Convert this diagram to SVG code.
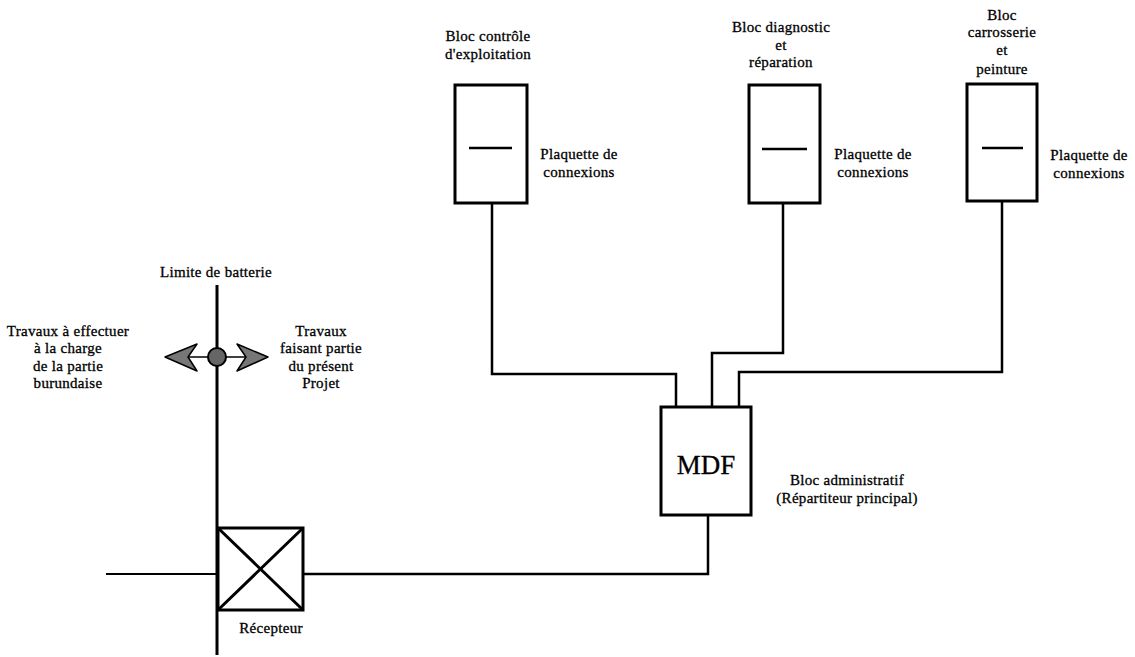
<svg xmlns="http://www.w3.org/2000/svg" width="1135" height="657" viewBox="0 0 1135 657">
<style>
text{font-family:"Liberation Serif","Times New Roman",serif;font-size:15px;fill:#000;stroke:#000;stroke-width:0.3;letter-spacing:0.3px}
.c{text-anchor:middle}
.box{fill:#fff;stroke:#000;stroke-width:3}
.ln{fill:none;stroke:#000;stroke-width:2.5;stroke-linejoin:miter;stroke-linecap:square}
.pl{stroke:#000;stroke-width:2.5}
.arr{fill:#777;stroke:#000;stroke-width:1.5;stroke-linejoin:round}
</style>
<rect width="1135" height="657" fill="#fff"/>
<g id="connectors">
<polyline class="ln" points="492,203 492,374 676,374 676,407"/>
<polyline class="ln" points="783,203 783,353 712,353 712,407"/>
<polyline class="ln" points="1002,201 1002,372 739,372 739,407"/>
<polyline class="ln" points="708,515 708,574 303,574"/>
<line class="ln" x1="107" y1="574" x2="218" y2="574" style="stroke-width:2"/>
</g>
<g id="bloc-controle">
<rect class="box" x="455" y="85" width="72" height="118"/>
<line class="pl" x1="469" y1="148" x2="512" y2="148"/>
<text class="c" x="488" y="41">Bloc contrôle</text>
<text class="c" x="488" y="59">d'exploitation</text>
<text class="c" x="579" y="159">Plaquette de</text>
<text class="c" x="579" y="177">connexions</text>
</g>
<g id="bloc-diagnostic">
<rect class="box" x="749" y="85" width="71" height="118"/>
<line class="pl" x1="762" y1="149" x2="807" y2="149"/>
<text class="c" x="781" y="32">Bloc diagnostic</text>
<text class="c" x="781" y="50">et</text>
<text class="c" x="781" y="67">réparation</text>
<text class="c" x="873" y="159">Plaquette de</text>
<text class="c" x="873" y="177">connexions</text>
</g>
<g id="bloc-carrosserie">
<rect class="box" x="967" y="84" width="70" height="117"/>
<line class="pl" x1="982" y1="148" x2="1023" y2="148"/>
<text class="c" x="1002" y="20">Bloc</text>
<text class="c" x="1002" y="37">carrosserie</text>
<text class="c" x="1002" y="55">et</text>
<text class="c" x="1002" y="74">peinture</text>
<text class="c" x="1089" y="160">Plaquette de</text>
<text class="c" x="1089" y="178">connexions</text>
</g>
<g id="mdf">
<rect class="box" x="661" y="407" width="90" height="108"/>
<text class="c" x="706" y="474" style="font-size:27px;letter-spacing:0">MDF</text>
<text class="c" x="847" y="485">Bloc administratif</text>
<text class="c" x="847" y="503">(Répartiteur principal)</text>
</g>
<g id="limite">
<line class="pl" x1="217" y1="285" x2="217" y2="655" style="stroke-width:3"/>
<text class="c" x="216" y="277">Limite de batterie</text>
<line x1="188" y1="357" x2="245" y2="357" stroke="#000" stroke-width="1.5"/>
<polygon class="arr" points="165,357 197,344 188,357 197,371"/>
<polygon class="arr" points="268,357 237,344 246,357 237,371"/>
<circle cx="217" cy="357" r="9" fill="#666" stroke="#000" stroke-width="2"/>
<text class="c" x="68" y="336">Travaux à effectuer</text>
<text class="c" x="68" y="353">à la charge</text>
<text class="c" x="68" y="371">de la partie</text>
<text class="c" x="68" y="388">burundaise</text>
<text class="c" x="321" y="336">Travaux</text>
<text class="c" x="321" y="353">faisant partie</text>
<text class="c" x="321" y="371">du présent</text>
<text class="c" x="321" y="388">Projet</text>
</g>
<g id="recepteur">
<rect class="box" x="218" y="528" width="85" height="82"/>
<line class="pl" x1="218" y1="528" x2="303" y2="610" style="stroke-width:3"/>
<line class="pl" x1="303" y1="528" x2="218" y2="610" style="stroke-width:3"/>
<text class="c" x="271" y="633">Récepteur</text>
</g>
</svg>
